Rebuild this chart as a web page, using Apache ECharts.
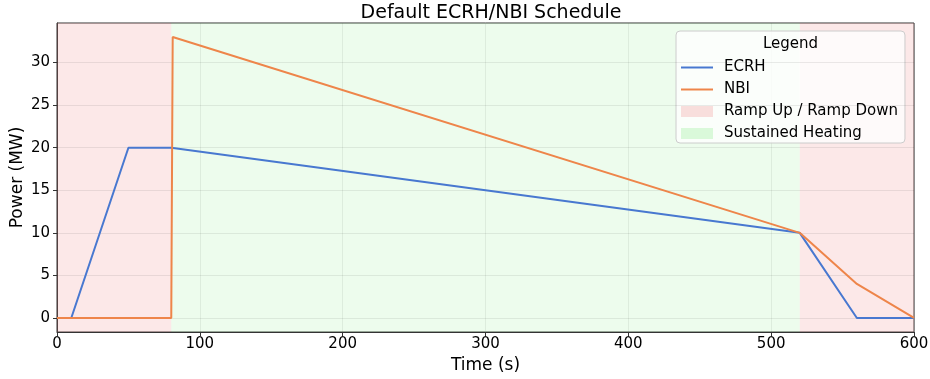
<!DOCTYPE html>
<html><head><meta charset="utf-8">
<script src="https://cdn.jsdelivr.net/npm/echarts@6/dist/echarts.min.js"></script>
<style>html,body{margin:0;padding:0;background:#fff}#c{width:930px;height:379px}</style>
</head><body><div id="c"></div>
<script>
const ecrhX = [0, 10, 50, 80, 520, 560, 600];
const ecrhY = [0, 0, 20, 20, 10, 0, 0];
const nbiX = [0, 80, 81, 520, 560, 600];
const nbiY = [0, 0, 33, 10, 4, 0];
const rampSpans = [[0, 80], [520, 600]];
const sustainedSpans = [[80, 520]];
const xTicks = [0, 100, 200, 300, 400, 500, 600];
const yTicks = [0, 5, 10, 15, 20, 25, 30];
const yMin = -1.65, yMax = 34.65;

const FONT = 'DejaVu Sans';
const rampColor = 'rgba(240,128,128,0.18)';
const sustColor = 'rgba(144,238,144,0.16)';
const chart = echarts.init(document.getElementById('c'));
const pairs = (xs, ys) => xs.map((x, i) => [x, ys[i]]);
const gridColor = 'rgba(0,0,0,0.08)';
chart.setOption({
  animation: false,
  textStyle: {fontFamily: FONT},
  title: {text: 'Default ECRH/NBI Schedule', left: 486, top: -1, textAlign: 'center',
    textStyle: {fontFamily: FONT, fontSize: 19, fontWeight: 'normal', color: '#000'}},
  grid: {left: 57, right: 16, top: 23, bottom: 47, show: true, borderColor: '#333', borderWidth: 1,
    outerBoundsMode: 'none', containLabel: false},
  xAxis: {type: 'value', min: 0, max: 600, interval: 100,
    name: 'Time (s)', nameLocation: 'middle', nameGap: 25,
    nameTextStyle: {fontFamily: FONT, fontSize: 17, color: '#000'},
    axisLine: {onZero: false, lineStyle: {color: '#333'}},
    axisTick: {length: 4, lineStyle: {color: '#333'}},
    axisLabel: {fontFamily: FONT, fontSize: 15, color: '#000', margin: 5, showMinLabel: true, showMaxLabel: true},
    splitLine: {show: true, lineStyle: {color: gridColor, width: 1}}},
  yAxis: {type: 'value', min: yMin, max: yMax,
    name: 'Power (MW)', nameLocation: 'middle', nameGap: 31, nameMoveOverlap: false,
    nameTextStyle: {fontFamily: FONT, fontSize: 17, color: '#000'},
    axisLine: {show: true, onZero: false, lineStyle: {color: '#333'}},
    axisTick: {show: true, length: 4, lineStyle: {color: '#333'}, customValues: yTicks},
    axisLabel: {fontFamily: FONT, fontSize: 15, color: '#000', margin: 7, customValues: yTicks},
    splitLine: {show: false}},
  legend: {orient: 'vertical', left: 676, top: 31, padding: [29, 7, 2, 5], itemGap: 7,
    itemWidth: 32, itemHeight: 11,
    backgroundColor: 'rgba(255,255,255,0.8)', borderColor: '#cccccc', borderWidth: 1, borderRadius: 4,
    textStyle: {fontFamily: FONT, fontSize: 15, color: '#000', padding: [0, 0, 0, 6]},
    data: [
      {name: 'ECRH', icon: 'path://M0,5 L32,5 L32,7 L0,7 Z'},
      {name: 'NBI', icon: 'path://M0,5 L32,5 L32,7 L0,7 Z'},
      {name: 'Ramp Up / Ramp Down', icon: 'rect'},
      {name: 'Sustained Heating', icon: 'rect'}
    ]},
  graphic: [{type: 'text', left: 763, top: 37, z: 100,
    style: {text: 'Legend', font: '15px "DejaVu Sans"', fill: '#000'}}],
  series: [
    {name: 'Ramp Up / Ramp Down', type: 'line', data: [], itemStyle: {color: 'rgba(240,128,128,0.25)'},
      markArea: {silent: true, itemStyle: {color: rampColor},
        data: rampSpans.map(s => [{xAxis: s[0]}, {xAxis: s[1]}])}},
    {name: 'Sustained Heating', type: 'line', data: [], itemStyle: {color: 'rgba(144,238,144,0.3)'},
      markArea: {silent: true, itemStyle: {color: sustColor},
        data: sustainedSpans.map(s => [{xAxis: s[0]}, {xAxis: s[1]}])}},
    {name: 'grid', type: 'line', data: [], silent: true,
      markLine: {silent: true, symbol: 'none', label: {show: false},
        lineStyle: {color: gridColor, type: 'solid', width: 1},
        data: yTicks.map(v => ({yAxis: v}))}},
    {name: 'ECRH', type: 'line', data: pairs(ecrhX, ecrhY), symbol: 'none', z: 5,
      lineStyle: {color: '#4878d0', width: 2}, itemStyle: {color: '#4878d0'}},
    {name: 'NBI', type: 'line', data: pairs(nbiX, nbiY), symbol: 'none', z: 6,
      lineStyle: {color: '#ee854a', width: 2}, itemStyle: {color: '#ee854a'}}
  ]
});
</script></body></html>
